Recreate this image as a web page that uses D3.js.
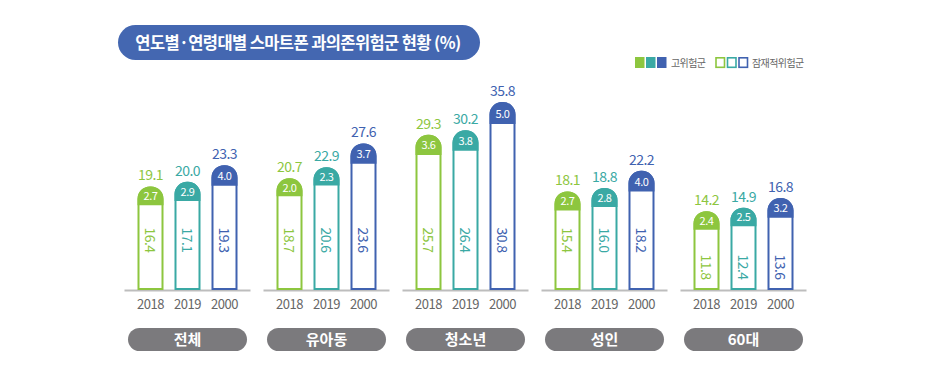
<!DOCTYPE html>
<html>
<head>
<meta charset="utf-8">
<script src="https://cdn.jsdelivr.net/npm/d3@7"></script>
<style>
  body { margin: 0; background: #fff; }
  svg { display: block; }
  text { font-family: 'Noto Sans CJK KR', 'Noto Sans', sans-serif; }
</style>
</head>
<body>
<svg width="928" height="375"></svg>
<script>
// 연도별·연령대별 스마트폰 과의존위험군 현황
const groups = ['전체', '유아동', '청소년', '성인', '60대'];
const years = ['2018', '2019', '2000'];
// 고위험군 (filled cap)
const highRisk = [
  [2.7, 2.9, 4.0],
  [2.0, 2.3, 3.7],
  [3.6, 3.8, 5.0],
  [2.7, 2.8, 4.0],
  [2.4, 2.5, 3.2]
];
// 잠재적위험군 (white part)
const potentialRisk = [
  [16.4, 17.1, 19.3],
  [18.7, 20.6, 23.6],
  [25.7, 26.4, 30.8],
  [15.4, 16.0, 18.2],
  [11.8, 12.4, 13.6]
];
// 과의존위험군 total
const totals = [
  [19.1, 20.0, 23.3],
  [20.7, 22.9, 27.6],
  [29.3, 30.2, 35.8],
  [18.1, 18.8, 22.2],
  [14.2, 14.9, 16.8]
];
const legendLabels = ['고위험군', '잠재적위험군'];
const title = '연도별·연령대별 스마트폰 과의존위험군 현황 (%)';

const colors = ['#8dc63f', '#3aa9a4', '#4062b0'];
const baseY = 290;

const svg = d3.select('svg');

// title pill
svg.append('rect')
  .attr('x', 118).attr('y', 25)
  .attr('width', 362).attr('height', 35)
  .attr('rx', 17.5)
  .attr('fill', '#4467b1');
svg.append('text')
  .attr('x', 298).attr('y', 49)
  .attr('text-anchor', 'middle')
  .attr('fill', '#fff')
  .attr('font-size', 16.5)
  .attr('font-weight', 700)
  .attr('letter-spacing', -0.6)
  .text(title);

// legend
const legend = svg.append('g');
colors.forEach(function(c, i) {
  legend.append('rect')
    .attr('x', 635 + i * 11).attr('y', 57)
    .attr('width', 9.5).attr('height', 11)
    .attr('fill', c);
  legend.append('rect')
    .attr('x', 716 + i * 11.5).attr('y', 57.8)
    .attr('width', 8.5).attr('height', 9.5)
    .attr('fill', '#fff')
    .attr('stroke', c)
    .attr('stroke-width', 1.6);
});
legend.append('text')
  .attr('x', 671).attr('y', 66.5)
  .attr('font-size', 10).attr('fill', '#666')
  .attr('letter-spacing', -0.6)
  .text(legendLabels[0]);
legend.append('text')
  .attr('x', 752).attr('y', 66.5)
  .attr('font-size', 10).attr('fill', '#666')
  .attr('letter-spacing', -0.6)
  .text(legendLabels[1]);

// scales
const gx = d3.scalePoint().domain(groups).range([187.5, 743.5]);
const bx = d3.scalePoint().domain(years).range([-37, 37]);
const y = d3.scaleLinear().domain([-1.2, 36]).range([baseY, 102]);
const capH = d3.scaleLinear().domain([2, 5]).range([16, 20]);
const half = 12, r = 11.5;

function capPath(cx, top, bottom) {
  const x0 = cx - half, x1 = cx + half;
  return 'M' + x0 + ',' + bottom +
    'V' + (top + r) +
    'A' + r + ',' + r + ' 0 0 1 ' + (x0 + r) + ',' + top +
    'H' + (x1 - r) +
    'A' + r + ',' + r + ' 0 0 1 ' + x1 + ',' + (top + r) +
    'V' + bottom + 'Z';
}

groups.forEach(function(g, gi) {
  const cg = gx(g);
  const grp = svg.append('g');

  // rotated labels sit at one height per group, lower when the bars are short
  const firstCap = y(totals[gi][0]) + capH(highRisk[gi][0]);
  const ty = firstCap > 220 ? baseY - 23 : 240;

  // baseline
  grp.append('line')
    .attr('x1', cg - 63).attr('x2', cg + 63)
    .attr('y1', baseY + 0.5).attr('y2', baseY + 0.5)
    .attr('stroke', '#bdbdbd').attr('stroke-width', 2);

  years.forEach(function(yr, i) {
    const cx = cg + bx(yr);
    const top = y(totals[gi][i]);
    const capBottom = top + capH(highRisk[gi][i]);
    const col = colors[i];

    // whole bar outline
    grp.append('path')
      .attr('d', capPath(cx, top, baseY - 1))
      .attr('fill', '#fff')
      .attr('stroke', col)
      .attr('stroke-width', 2);
    // filled cap
    grp.append('path')
      .attr('d', capPath(cx, top, capBottom))
      .attr('fill', col)
      .attr('stroke', col)
      .attr('stroke-width', 2);

    // total above
    grp.append('text')
      .attr('x', cx).attr('y', top - 7)
      .attr('text-anchor', 'middle')
      .attr('font-size', 14).attr('fill', col)
      .attr('letter-spacing', -0.5)
      .text(totals[gi][i].toFixed(1));
    // cap value
    grp.append('text')
      .attr('x', cx).attr('y', (top + capBottom) / 2 + 4.5)
      .attr('text-anchor', 'middle')
      .attr('font-size', 11).attr('fill', '#fff')
      .attr('letter-spacing', -0.4)
      .text(highRisk[gi][i].toFixed(1));
    // potential value, rotated
    grp.append('text')
      .attr('transform', 'translate(' + (cx - 0.5) + ',' + ty + ') rotate(90)')
      .attr('text-anchor', 'middle')
      .attr('dy', '0.36em')
      .attr('font-size', 14).attr('fill', col)
      .attr('letter-spacing', -0.5)
      .text(potentialRisk[gi][i].toFixed(1));

    // year label
    grp.append('text')
      .attr('x', cx).attr('y', 309)
      .attr('text-anchor', 'middle')
      .attr('font-size', 13).attr('fill', '#666')
      .attr('letter-spacing', -0.5)
      .text(yr);
  });

  // group pill
  grp.append('rect')
    .attr('x', cg - 59.5).attr('y', 328)
    .attr('width', 119).attr('height', 23)
    .attr('rx', 11.5)
    .attr('fill', '#7b7a7d');
  grp.append('text')
    .attr('x', cg).attr('y', 345)
    .attr('text-anchor', 'middle')
    .attr('font-size', 15).attr('font-weight', 700)
    .attr('fill', '#fff')
    .text(g);
});
</script>
</body>
</html>
